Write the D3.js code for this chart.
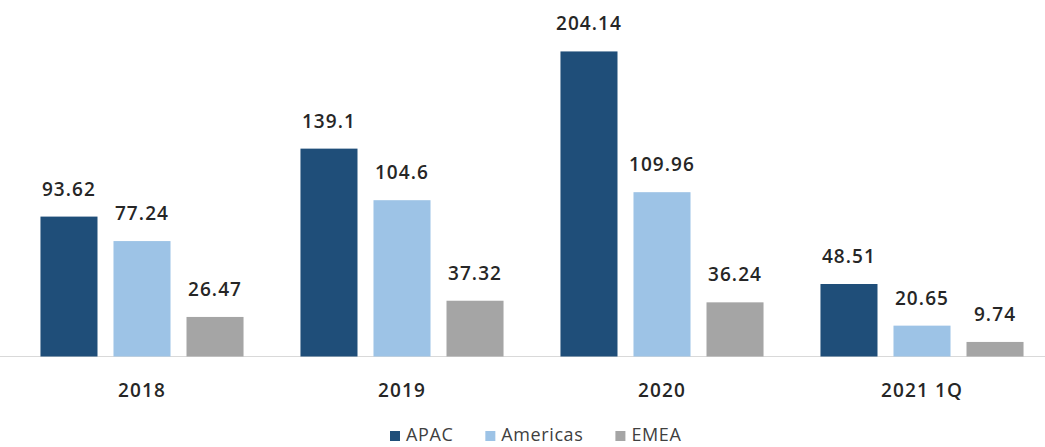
<!DOCTYPE html>
<html>
<head>
<meta charset="utf-8">
<script src="https://cdn.jsdelivr.net/npm/d3@7"></script>
<style>
  html, body { margin: 0; padding: 0; background: #ffffff; }
  svg { display: block; }
  text { font-family: "Open Sans", "Noto Sans", sans-serif; }
</style>
</head>
<body>
<svg id="chart" width="1045" height="447"></svg>
<script>
// Regional values by period
const categories = ["2018", "2019", "2020", "2021 1Q"];
const seriesNames = ["APAC", "Americas", "EMEA"];
const apac = [93.62, 139.1, 204.14, 48.51];
const americas = [77.24, 104.6, 109.96, 20.65];
const emea = [26.47, 37.32, 36.24, 9.74];
const seriesValues = [apac, americas, emea];
const colors = ["#1f4e79", "#9dc3e6", "#a5a5a5"];

const svg = d3.select("#chart");
const width = 1045;
const baseY = 356.5;

const x0 = d3.scaleBand()
  .domain(categories)
  .range([12, 1052])
  .paddingInner(0.219)
  .paddingOuter(0.1095);

const x1 = d3.scaleBand()
  .domain(seriesNames)
  .range([0, x0.bandwidth()])
  .paddingInner(0.219)
  .paddingOuter(0);

const y = d3.scaleLinear()
  .domain([0, 220])
  .range([baseY, baseY - 220 * 1.4944]);

const color = d3.scaleOrdinal().domain(seriesNames).range(colors);

// Baseline
svg.append("line")
  .attr("x1", 0).attr("x2", width)
  .attr("y1", baseY).attr("y2", baseY)
  .attr("stroke", "#d9d9d9").attr("stroke-width", 1);

// Bars and value labels
const groups = svg.selectAll("g.group")
  .data(categories)
  .join("g")
  .attr("class", "group")
  .attr("transform", d => `translate(${x0(d)},0)`);

groups.selectAll("rect")
  .data((c, i) => seriesNames.map((s, j) => ({ s, v: seriesValues[j][i] })))
  .join("rect")
  .attr("x", d => x1(d.s))
  .attr("width", x1.bandwidth())
  .attr("y", d => y(d.v))
  .attr("height", d => y(0) - y(d.v))
  .attr("fill", d => color(d.s));

groups.selectAll("text.value")
  .data((c, i) => seriesNames.map((s, j) => ({ s, v: seriesValues[j][i] })))
  .join("text")
  .attr("class", "value")
  .attr("x", d => x1(d.s) + x1.bandwidth() / 2)
  .attr("y", d => y(d.v) - 21)
  .attr("text-anchor", "middle")
  .attr("font-size", 19)
  .attr("font-weight", 600)
  .attr("letter-spacing", 1.1)
  .attr("fill", "#262626")
  .text(d => d.v);

// Category axis labels
const xAxis = d3.axisBottom(x0).tickSize(0).tickPadding(0);
const axisG = svg.append("g")
  .attr("transform", `translate(0,${baseY})`)
  .call(xAxis);
axisG.select(".domain").remove();
axisG.selectAll("text")
  .attr("y", 40)
  .attr("dy", 0)
  .attr("font-size", 19)
  .attr("font-weight", 600)
  .attr("letter-spacing", 1.1)
  .attr("fill", "#262626")
  .style("font-family", "'Open Sans', 'Noto Sans', sans-serif");

// Legend
const legend = svg.append("g").attr("transform", "translate(390,0)");
let lx = 0;
seriesNames.forEach((name) => {
  const item = legend.append("g").attr("transform", `translate(${lx},0)`);
  item.append("rect")
    .attr("x", 0).attr("y", 431)
    .attr("width", 10).attr("height", 10)
    .attr("fill", color(name));
  const t = item.append("text")
    .attr("x", 16).attr("y", 441)
    .attr("font-size", 18)
    .attr("letter-spacing", 0.6)
    .attr("fill", "#404040")
    .text(name);
  lx += 16 + t.node().getComputedTextLength() + 32;
});
</script>
</body>
</html>
